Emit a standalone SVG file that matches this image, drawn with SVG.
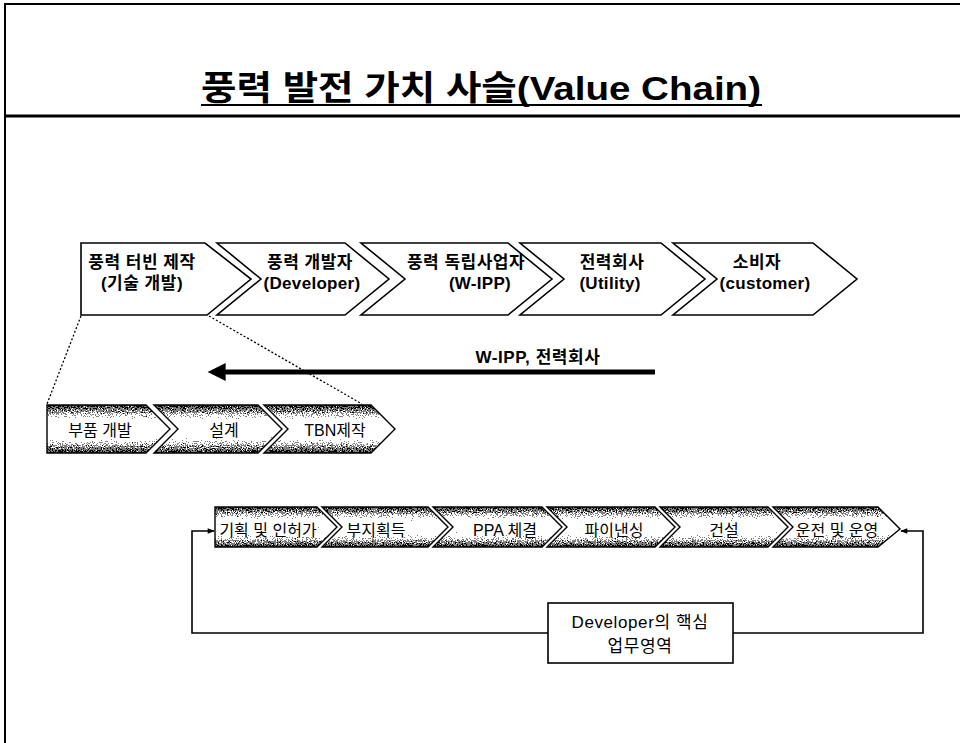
<svg xmlns="http://www.w3.org/2000/svg" width="960" height="743" viewBox="0 0 960 743">
<style>
.frame{stroke:#000;fill:none}
.chev{fill:#fff;stroke:#000;stroke-width:1.6;stroke-linejoin:miter}
.tchev{stroke:none}
.tline{fill:none;stroke:#000;stroke-width:1.4}
.lbl{font-family:"Liberation Sans","Noto Sans CJK KR",sans-serif;font-size:16px;fill:#000;text-anchor:middle}
.top{font-size:17px;font-weight:bold;letter-spacing:0.5px}
.lat{letter-spacing:0.3px}
.ttl{font-family:"Liberation Sans","Noto Sans CJK KR",sans-serif;font-size:34px;font-weight:bold;fill:#000;text-anchor:middle}
.conn{fill:none;stroke:#000;stroke-width:1.6}
.dot{fill:none;stroke:#000;stroke-width:1.3;stroke-dasharray:2 2}
</style>
<defs>
<linearGradient id="g" x1="0" y1="0" x2="0" y2="1">
<stop offset="0" stop-color="#2a2a2a"/>
<stop offset="0.18" stop-color="#808080"/>
<stop offset="0.36" stop-color="#f6f6f6"/>
<stop offset="0.64" stop-color="#f6f6f6"/>
<stop offset="0.82" stop-color="#858585"/>
<stop offset="1" stop-color="#2a2a2a"/>
</linearGradient>
<filter id="grain" x="0" y="0" width="100%" height="100%" color-interpolation-filters="sRGB">
<feTurbulence type="fractalNoise" baseFrequency="0.8" numOctaves="2" seed="7" result="n"/>
<feColorMatrix in="n" type="matrix" values="1 0 0 0 0 1 0 0 0 0 1 0 0 0 0 0 0 0 0 1" result="ng"/>
<feComposite in="SourceGraphic" in2="ng" operator="arithmetic" k1="0" k2="1" k3="1.2" k4="-0.6" result="sum"/>
<feComponentTransfer in="sum" result="th">
<feFuncR type="discrete" tableValues="0 0.5 1 1"/>
<feFuncG type="discrete" tableValues="0 0.5 1 1"/>
<feFuncB type="discrete" tableValues="0 0.5 1 1"/>
<feFuncA type="linear" slope="0" intercept="1"/>
</feComponentTransfer>
<feComposite in="th" in2="SourceAlpha" operator="in"/>
</filter>
<marker id="ah" viewBox="0 0 10 10" refX="9" refY="5" markerWidth="8" markerHeight="7" orient="auto" markerUnits="userSpaceOnUse">
<path d="M0,1 L10,5 L0,9 Z" fill="#000"/>
</marker>
<marker id="bigah" viewBox="0 0 10 10" refX="2" refY="5" markerWidth="5" markerHeight="3.6" orient="auto">
<path d="M0,0 L10,5 L0,10 Z" fill="#000"/>
</marker>
</defs>

<g id="frame">
<path class="frame" stroke-width="2" d="M5,743 V4 H960"/>
<path class="frame" stroke-width="3" d="M5,116 H960"/>
</g>

<g id="title">
<text class="ttl" x="481" y="100" textLength="560" lengthAdjust="spacingAndGlyphs">풍력 발전 가치 사슬(Value Chain)</text>
<line x1="201" y1="105" x2="762" y2="105" stroke="#000" stroke-width="2"/>
</g>

<g id="n-turbine">
<path class="chev" d="M81,243 H205 L251,279 L207,315 H81 Z"/>
<text class="lbl top" x="142" y="268">풍력 터빈 제작</text>
<text class="lbl top" x="142" y="289">(기술 개발)</text>
</g>
<g id="n-developer">
<path class="chev" d="M217,243 H345 L389,279 L345,315 H217 L261,279 Z"/>
<text class="lbl top" x="310" y="268">풍력 개발자</text>
<text class="lbl top lat" x="312" y="289">(Developer)</text>
</g>
<g id="n-wipp">
<path class="chev" d="M361,243 H508 L552,279 L508,315 H361 L405,279 Z"/>
<text class="lbl top" x="466" y="268">풍력 독립사업자</text>
<text class="lbl top lat" x="480" y="289">(W-IPP)</text>
</g>
<g id="n-utility">
<path class="chev" d="M520,243 H661 L705,279 L661,315 H520 L564,279 Z"/>
<text class="lbl top" x="612" y="268">전력회사</text>
<text class="lbl top lat" x="610" y="289">(Utility)</text>
</g>
<g id="n-customer">
<path class="chev" d="M673,243 H813 L857,279 L813,315 H673 L717,279 Z"/>
<text class="lbl top" x="757" y="268">소비자</text>
<text class="lbl top lat" x="765" y="289">(customer)</text>
</g>

<g id="n-parts">
<path class="tchev" fill="url(#g)" filter="url(#grain)" d="M47,405 H146 L170,429 L146,453 H47 Z"/>
<path class="tline" d="M47,405 H146 L170,429 L146,453 H47 Z"/>
<text class="lbl" x="100" y="436">부품 개발</text>
</g>
<g id="n-design">
<path class="tchev" fill="url(#g)" filter="url(#grain)" d="M154,405 H258 L282,429 L258,453 H154 L178,429 Z"/>
<path class="tline" d="M154,405 H258 L282,429 L258,453 H154 L178,429 Z"/>
<text class="lbl" x="224" y="436">설계</text>
</g>
<g id="n-tbn">
<path class="tchev" fill="url(#g)" filter="url(#grain)" d="M264,405 H371 L395,429 L371,453 H264 L288,429 Z"/>
<path class="tline" d="M264,405 H371 L395,429 L371,453 H264 L288,429 Z"/>
<text class="lbl" x="335" y="436">TBN제작</text>
</g>

<g id="n-plan">
<path class="tchev" fill="url(#g)" filter="url(#grain)" d="M215,507 H317 L337,527 L317,547 H215 Z"/>
<path class="tline" d="M215,507 H317 L337,527 L317,547 H215 Z"/>
<text class="lbl" x="268" y="536">기획 및 인허가</text>
</g>
<g id="n-site">
<path class="tchev" fill="url(#g)" filter="url(#grain)" d="M322,507 H428 L448,527 L428,547 H322 L342,527 Z"/>
<path class="tline" d="M322,507 H428 L448,527 L428,547 H322 L342,527 Z"/>
<text class="lbl" x="376" y="536">부지획득</text>
</g>
<g id="n-ppa">
<path class="tchev" fill="url(#g)" filter="url(#grain)" d="M433,507 H542 L562,527 L542,547 H433 L453,527 Z"/>
<path class="tline" d="M433,507 H542 L562,527 L542,547 H433 L453,527 Z"/>
<text class="lbl" x="505" y="536">PPA 체결</text>
</g>
<g id="n-finance">
<path class="tchev" fill="url(#g)" filter="url(#grain)" d="M547,507 H655 L675,527 L655,547 H547 L567,527 Z"/>
<path class="tline" d="M547,507 H655 L675,527 L655,547 H547 L567,527 Z"/>
<text class="lbl" x="614" y="536">파이낸싱</text>
</g>
<g id="n-build">
<path class="tchev" fill="url(#g)" filter="url(#grain)" d="M660,507 H768 L788,527 L768,547 H660 L680,527 Z"/>
<path class="tline" d="M660,507 H768 L788,527 L768,547 H660 L680,527 Z"/>
<text class="lbl" x="724" y="536">건설</text>
</g>
<g id="n-operate">
<path class="tchev" fill="url(#g)" filter="url(#grain)" d="M773,507 H878 L900,529 L878,547 H773 L793,527 Z"/>
<path class="tline" d="M773,507 H878 L900,529 L878,547 H773 L793,527 Z"/>
<text class="lbl" x="837" y="536">운전 및 운영</text>
</g>

<g id="n-core">
<rect x="548" y="603" width="185" height="60" fill="#fff" stroke="#000" stroke-width="1.6"/>
<text class="lbl" x="640" y="628" style="font-size:17px;letter-spacing:0.6px">Developer의 핵심</text>
<text class="lbl" x="640" y="652" style="font-size:17px;letter-spacing:0.6px">업무영역</text>
</g>

<g id="arrow-label">
<text class="lbl" x="538" y="363" style="font-size:17px;font-weight:bold;letter-spacing:0.6px">W-IPP, 전력회사</text>
</g>

<g id="connectors">
<line class="dot" x1="81" y1="316" x2="47" y2="404"/>
<line class="dot" x1="209" y1="316" x2="362" y2="404"/>
<line x1="655" y1="372" x2="222" y2="372" stroke="#000" stroke-width="5" marker-end="url(#bigah)"/>
<path class="conn" d="M548,633 H192 V531 H214" marker-end="url(#ah)"/>
<path class="conn" d="M733,633 H923 V531 H901" marker-end="url(#ah)"/>
</g>
</svg>
